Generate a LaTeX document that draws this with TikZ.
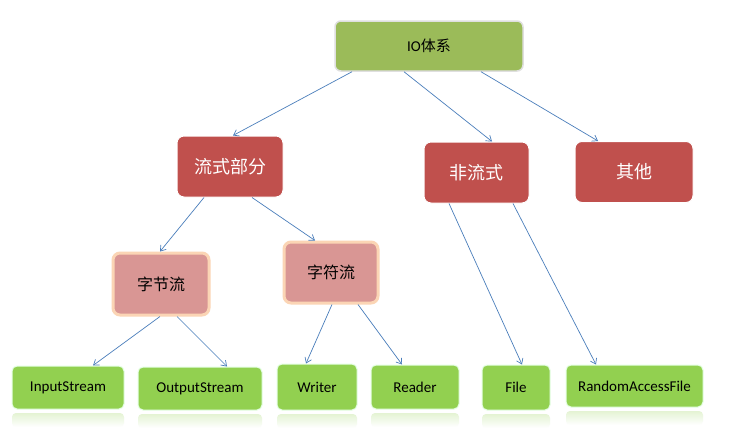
\documentclass[tikz,border=0pt]{standalone}
\usepackage{fontspec}
\setmainfont{Carlito}
\newfontfamily\cjk{Noto Sans CJK SC}
\usetikzlibrary{arrows.meta}
\definecolor{olivegreen}{HTML}{9BBB59}
\definecolor{brick}{HTML}{C0504D}
\definecolor{pinkbox}{HTML}{D99694}
\definecolor{glow}{HTML}{FBD5B5}
\definecolor{leaf}{HTML}{92D050}
\definecolor{conn}{HTML}{4A7EBB}
\tikzset{
  topbox/.style={draw=gray!25, line width=1.5pt, fill=olivegreen, rounded corners=6pt, inner sep=0pt, font=\fontsize{15}{17}\selectfont},
  redbox/.style={draw=white, line width=1pt, fill=brick, rounded corners=7pt, inner sep=0pt, text=white, font=\cjk\fontsize{18}{20}\selectfont},
  pinkbox/.style={draw=glow, line width=3pt, fill=pinkbox, rounded corners=7pt, inner sep=0pt, font=\cjk\fontsize{16}{18}\selectfont},
  leafbox/.style={draw=green!10, line width=1pt, fill=leaf, rounded corners=5pt, inner sep=0pt, font=\fontsize{15}{17}\selectfont},
  conn/.style={draw=conn, line width=0.7pt, -{Straight Barb[length=5pt,width=7pt]}},
  refl/.style={top color=leaf!25, bottom color=white, draw=none}
}
\begin{document}
\begin{tikzpicture}[x=1pt,y=-1pt]
\useasboundingbox (0,0) rectangle (750,434);
\fill[white] (0,0) rectangle (750,434);
% reflections
\foreach \xa/\xb/\yt in {12/124/413, 138/262/414, 277/357/414, 371/459/413, 482/550/414, 566/703/411}{
  \shade[refl, rounded corners=4pt] (\xa,\yt) rectangle (\xb,\yt+14);
}
\node[topbox, minimum width=188pt, minimum height=50pt] (io) at (429,46) {IO{\cjk 体系}};
\node[redbox, minimum width=106pt, minimum height=61pt] (ls) at (230,166.5) {流式部分};
\node[redbox, minimum width=105pt, minimum height=61pt] (nls) at (476.5,172.5) {非流式};
\node[redbox, minimum width=118pt, minimum height=61pt] (qt) at (634,172) {其他};
\node[pinkbox, minimum width=96pt, minimum height=62pt] (zj) at (161,284) {字节流};
\node[pinkbox, minimum width=94pt, minimum height=61pt] (zf) at (331,272.5) {字符流};
\node[leafbox, minimum width=112pt, minimum height=43pt] (is) at (68,387.5) {InputStream};
\node[leafbox, minimum width=124pt, minimum height=43pt] (os) at (200,388.5) {OutputStream};
\node[leafbox, minimum width=80pt, minimum height=46pt] (wr) at (317,387) {Writer};
\node[leafbox, minimum width=88pt, minimum height=44pt] (rd) at (415,387) {Reader};
\node[leafbox, minimum width=68pt, minimum height=45pt] (fl) at (516,387.5) {File};
\node[leafbox, minimum width=137pt, minimum height=42pt] (raf) at (634.5,386) {RandomAccessFile};
% connectors
\draw[conn] ([xshift=-77pt]io.south) -- ([xshift=3pt]ls.north);
\draw[conn] ([xshift=-25pt]io.south) -- ([xshift=15.5pt]nls.north);
\draw[conn] ([xshift=52pt]io.south) -- ([xshift=-36pt]qt.north);
\draw[conn] ([xshift=-26pt]ls.south) -- ([xshift=-1pt]zj.north);
\draw[conn] ([xshift=22pt]ls.south) -- ([xshift=-16pt]zf.north);
\draw[conn] ([xshift=-1pt]zj.south) -- ([xshift=25pt]is.north);
\draw[conn] ([xshift=16pt]zj.south) -- ([xshift=27pt]os.north);
\draw[conn] ([xshift=1pt]zf.south) -- ([xshift=-11pt]wr.north);
\draw[conn] ([xshift=27pt]zf.south) -- ([xshift=-13pt]rd.north);
\draw[conn] ([xshift=-27.5pt]nls.south) -- ([xshift=6pt]fl.north);
\draw[conn] ([xshift=36.5pt]nls.south) -- ([xshift=-38.5pt]raf.north);
\end{tikzpicture}
\end{document}
